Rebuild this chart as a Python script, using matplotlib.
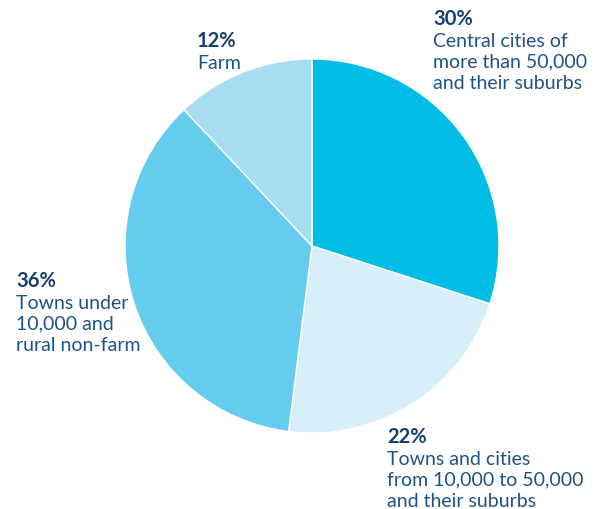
import matplotlib.pyplot as plt

shares = [30, 22, 36, 12]
pcts = ["30%", "22%", "36%", "12%"]
names = ["Central cities of\nmore than 50,000\nand their suburbs",
         "Towns and cities\nfrom 10,000 to 50,000\nand their suburbs",
         "Towns under\n10,000 and\nrural non-farm",
         "Farm"]
colors = ["#00bde6", "#d6eff8", "#66ccee", "#a6ddf3"]

plt.rcParams['font.family'] = ['Lato', 'DejaVu Sans']

W, H = 597, 510
fig = plt.figure(figsize=(W / 100, H / 100), dpi=100)
ax = fig.add_axes([125 / W, 1 - 434 / H, 374 / W, 374 / H])
ax.pie(shares, colors=colors, startangle=90, counterclock=False,
       wedgeprops=dict(edgecolor="white", linewidth=1))
ax.set_xlim(-1, 1)
ax.set_ylim(-1, 1)
ax.axis("off")

# label anchor (left, top) in pixels
spots = [(433, 9), (387, 427), (16, 271), (197, 31)]
for (px, py), p, n in zip(spots, pcts, names):
    fig.text(px / W, 1 - py / H, p, fontsize=14.5, fontweight="bold",
             color="#163f6e", va="top", ha="left")
    fig.text(px / W, 1 - (py + 24) / H, n, fontsize=14, color="#1f5285",
             va="top", ha="left", linespacing=1.27)

fig.savefig("out.png", dpi=100)
